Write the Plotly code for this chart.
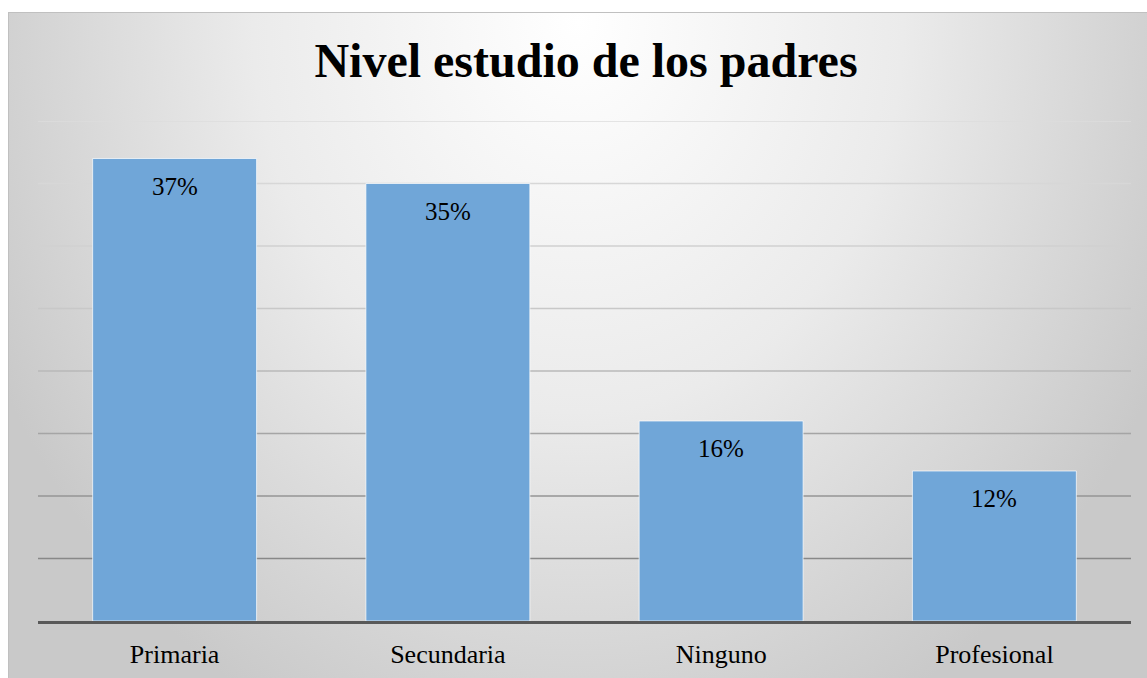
import base64
import plotly.graph_objects as go

# ---- data ----
categories = ["Primaria", "Secundaria", "Ninguno", "Profesional"]
values = [37, 35, 16, 12]
labels = ["37%", "35%", "16%", "12%"]
grid_levels = [5, 10, 15, 20, 25, 30, 35, 40]
grid_greys = [136, 148, 165, 185, 200, 208, 215, 220]

W, H = 1147, 678
L, R, T, B = 38, 16, 121, 57
pw, ph = W - L - R, H - T - B
FX, FY = 8, 12  # top-left of the chart frame

# background: radial grey gradient as an SVG image
svg = f'''<svg xmlns="http://www.w3.org/2000/svg" width="1139" height="666" viewBox="0 0 1139 666" preserveAspectRatio="none">
<defs><radialGradient id="g" gradientUnits="userSpaceOnUse" cx="570" cy="10" r="650"
 gradientTransform="translate(570,10) scale(1,1.2) translate(-570,-10)">
<stop offset="0" stop-color="#ffffff"/><stop offset="0.5" stop-color="#ebebeb"/><stop offset="1" stop-color="#c9c9c9"/>
</radialGradient></defs>
<rect x="0" y="0" width="1139" height="666" fill="url(#g)"/>
<line x1="0" y1="0.5" x2="1139" y2="0.5" stroke="#c0c0c0" stroke-width="1"/>
<line x1="0.5" y1="0" x2="0.5" y2="666" stroke="#c0c0c0" stroke-width="1"/>
</svg>'''
src = "data:image/svg+xml;base64," + base64.b64encode(svg.encode()).decode()

fig = go.Figure()
fig.add_trace(go.Bar(
    x=categories, y=values,
    marker=dict(color="rgb(112,166,216)", line=dict(color="rgba(255,255,255,0.7)", width=1)),
    hoverinfo="skip",
))

for c, v, t in zip(categories, values, labels):
    fig.add_annotation(x=c, y=v, xref="x", yref="y", text=t, showarrow=False,
                       yanchor="top", yshift=-12,
                       font=dict(family="Liberation Serif", size=25, color="#000"))

for lvl, g in zip(grid_levels, grid_greys):
    fig.add_shape(type="line", xref="paper", yref="y", x0=0, x1=1, y0=lvl, y1=lvl,
                  line=dict(color=f"rgb({g},{g},{g})", width=1.5), layer="below")

fig.add_layout_image(dict(
    source=src, xref="paper", yref="paper",
    x=(FX - L) / pw, y=(H - B - FY) / ph,
    sizex=(W - FX) / pw, sizey=(H - FY) / ph,
    xanchor="left", yanchor="top", sizing="stretch", layer="below",
))

fig.update_layout(
    width=W, height=H,
    margin=dict(l=L, r=R, t=T, b=B, autoexpand=False),
    paper_bgcolor="white", plot_bgcolor="rgba(0,0,0,0)",
    bargap=0.4, showlegend=False,
    title=dict(text="<b>Nivel estudio de los padres</b>", x=586 / W, xref="container",
               y=1 - 60 / H, yref="container", xanchor="center", yanchor="middle",
               font=dict(family="Liberation Serif", size=48, color="#000")),
    xaxis=dict(showgrid=False, showline=True, linecolor="#595959", linewidth=3,
               ticks="", ticklabelstandoff=8, automargin=False,
               tickfont=dict(family="Liberation Serif", size=26, color="#000")),
    yaxis=dict(range=[0, 40], showgrid=False, zeroline=False, showticklabels=False,
               ticks="", automargin=False),
)

fig.write_html(
    "out.html",
    config={"displayModeBar": False},
    post_script="document.documentElement.style.margin='0';document.body.style.margin='0';"
                "document.documentElement.style.overflow='hidden';document.body.style.overflow='hidden';",
)
